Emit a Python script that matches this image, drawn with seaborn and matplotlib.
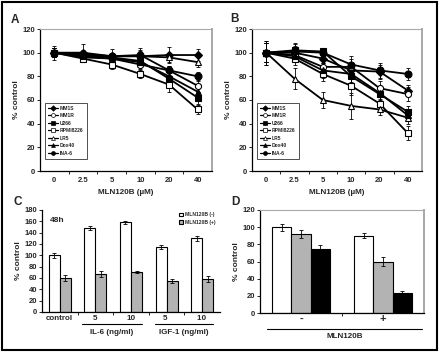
import matplotlib
matplotlib.use("Agg")
import matplotlib.pyplot as plt
from matplotlib.patches import Rectangle
from matplotlib.lines import Line2D
import pandas as pd
import seaborn as sns

# ---- data ----
doses = ["0", "2.5", "5", "10", "20", "40"]
lines_names = ["MM1S", "MM1R", "U266", "RPMI8226", "LR5", "Dox40", "INA-6"]

a_vals = {
    "MM1S": [100, 100, 97, 97, 98, 98],
    "MM1R": [100, 96, 95, 90, 85, 72],
    "U266": [100, 98, 96, 93, 78, 62],
    "RPMI8226": [100, 95, 90, 82, 73, 52],
    "LR5": [100, 98, 97, 97, 96, 92],
    "Dox40": [100, 97, 95, 92, 80, 67],
    "INA-6": [100, 99, 97, 98, 85, 80],
}
a_err = {
    "MM1S": [6, 7, 6, 7, 7, 5],
    "MM1R": [4, 3, 4, 4, 4, 5],
    "U266": [4, 3, 4, 5, 6, 5],
    "RPMI8226": [4, 3, 4, 3, 6, 4],
    "LR5": [4, 3, 3, 4, 4, 4],
    "Dox40": [4, 3, 3, 4, 4, 4],
    "INA-6": [4, 3, 3, 4, 4, 4],
}
b_vals = {
    "MM1S": [100, 100, 95, 85, 84, 68],
    "MM1R": [100, 98, 88, 88, 70, 65],
    "U266": [100, 102, 101, 80, 65, 50],
    "RPMI8226": [100, 95, 82, 72, 57, 32],
    "LR5": [100, 78, 60, 55, 52, 45],
    "Dox40": [100, 97, 85, 82, 66, 47],
    "INA-6": [100, 101, 100, 90, 85, 82],
}
b_err = {
    "MM1S": [8, 7, 4, 6, 6, 5],
    "MM1R": [10, 5, 6, 7, 6, 6],
    "U266": [8, 6, 3, 6, 5, 5],
    "RPMI8226": [8, 5, 6, 8, 6, 6],
    "LR5": [10, 9, 7, 11, 5, 5],
    "Dox40": [8, 5, 6, 7, 5, 5],
    "INA-6": [8, 5, 3, 7, 6, 5],
}

c_groups = ["control", "5", "10", "5 ", "10 "]
c_treat = ["MLN120B (-)", "MLN120B (+)"]
c_minus = [100, 148, 158, 115, 130]
c_plus = [60, 67, 70, 55, 58]
c_minus_err = [5, 3, 3, 4, 5]
c_plus_err = [6, 5, 2, 4, 5]

d_groups = ["-", "+"]
d_white = [100, 90]
d_gray = [92, 60]
d_black = [74, 23]
d_white_err = [4, 3]
d_gray_err = [5, 5]
d_black_err = [5, 3]

# ---- style ----
sns.set_style("ticks")
plt.rcParams["font.family"] = ["Liberation Sans", "DejaVu Sans"]
plt.rcParams["font.weight"] = "bold"
plt.rcParams["axes.labelweight"] = "bold"

W, H = 440, 356
GRAY = "#b3b3b3"
FRAME = "#a8a8a8"

markers = {
    "MM1S": ("D", "black", 3.6),
    "MM1R": ("o", "white", 4.4),
    "U266": ("s", "black", 4.4),
    "RPMI8226": ("s", "white", 4.4),
    "LR5": ("^", "white", 5.0),
    "Dox40": ("^", "black", 5.0),
    "INA-6": ("o", "black", 5.0),
}


def box(l, t, r, b):
    return [l / W, 1 - b / H, (r - l) / W, (b - t) / H]


fig = plt.figure(figsize=(W / 100, H / 100), dpi=100)
fig.patches.append(Rectangle((1.5 / W, 1 - 350 / H), 435.5 / W, 348.5 / H,
                             transform=fig.transFigure, fill=False,
                             edgecolor="black", linewidth=1.5))


def style_axes(ax, framed=True):
    ax.tick_params(axis="both", labelsize=5.5, length=2, width=0.7, pad=1.5)
    for s in ["left", "bottom"]:
        ax.spines[s].set_linewidth(0.9)
        ax.spines[s].set_color("black")
    if framed:
        ax.spines["top"].set_color(FRAME)
        ax.spines["right"].set_color(FRAME)
        ax.spines["top"].set_linewidth(0.8)
        ax.spines["right"].set_linewidth(1.4)
    else:
        ax.spines["top"].set_visible(False)
        ax.spines["right"].set_visible(False)


def dose_panel(rect, vals, errs, label, lab_xy):
    ax = fig.add_axes(box(*rect))
    pos = list(range(len(doses)))
    handles = []
    for name in lines_names:
        ax.errorbar(pos, vals[name], yerr=errs[name], fmt="none", ecolor="black",
                    elinewidth=0.6, capsize=1.2, capthick=0.6, zorder=2)
    for name in lines_names:
        m, fc, ms = markers[name]
        sns.lineplot(x=pos, y=vals[name], ax=ax, color="black", linewidth=1.3,
                     marker=m, markersize=ms, markerfacecolor=fc,
                     markeredgecolor="black", markeredgewidth=0.8,
                     errorbar=None, zorder=3)
        handles.append(Line2D([], [], color="black", linewidth=0.9, marker=m,
                              markersize=2.8, markerfacecolor=fc,
                              markeredgecolor="black", markeredgewidth=0.5,
                              label=name))
    ax.set_xlim(-0.5, 5.5)
    ax.set_ylim(0, 120)
    ax.set_yticks(range(0, 121, 20))
    ax.set_xticks(pos)
    ax.set_xticklabels(doses)
    ax.set_xticks([p + 0.5 for p in pos[:-1]], minor=True)
    style_axes(ax)
    ax.tick_params(axis="x", which="major", length=0, pad=4)
    ax.tick_params(axis="x", which="minor", length=2, width=0.7)
    ax.set_xlabel("MLN120B (\u00b5M)", fontsize=5.8, labelpad=4)
    ax.set_ylabel("% control", fontsize=6, labelpad=2)
    leg = ax.legend(handles=handles, loc="lower left", bbox_to_anchor=(0.015, 0.07),
                    fontsize=3.6, frameon=True, fancybox=False, edgecolor="black",
                    handlelength=2.0, handletextpad=0.4, labelspacing=0.5,
                    borderpad=0.6)
    leg.get_frame().set_linewidth(0.6)
    fig.text(lab_xy[0] / W, 1 - lab_xy[1] / H, label, fontsize=8.5, fontweight="bold",
             ha="center", va="center")
    return ax


dose_panel((40, 29, 212, 171), a_vals, a_err, "A", (15, 20))
dose_panel((252, 29, 422, 171), b_vals, b_err, "B", (234, 19))

# ---- panel C ----
axc = fig.add_axes(box(42, 210, 220, 312))
dfc = pd.DataFrame({
    "group": c_groups * 2,
    "treat": [c_treat[0]] * 5 + [c_treat[1]] * 5,
    "value": c_minus + c_plus,
})
sns.barplot(data=dfc, x="group", y="value", hue="treat", order=c_groups,
            hue_order=c_treat, palette=["white", GRAY], edgecolor="black",
            linewidth=0.8, width=0.62, errorbar=None, ax=axc)
for cont, errs in zip(axc.containers, [c_minus_err, c_plus_err]):
    xs = [p.get_x() + p.get_width() / 2 for p in cont]
    ys = [p.get_height() for p in cont]
    axc.errorbar(xs, ys, yerr=errs, fmt="none", ecolor="black", elinewidth=0.6,
                 capsize=1.2, capthick=0.6)
axc.set_ylim(0, 180)
axc.set_yticks(range(0, 181, 20))
axc.set_xlim(-0.5, 4.5)
axc.set_xticks([x + 0.5 for x in range(4)], minor=True)
style_axes(axc, framed=False)
axc.tick_params(axis="x", which="major", length=0, labelsize=5.8, pad=2)
axc.tick_params(axis="x", which="minor", length=2, width=0.7)
axc.set_xlabel("")
axc.set_ylabel("% control", fontsize=6, labelpad=2)
legc = axc.legend(loc="upper right", bbox_to_anchor=(1.0, 1.02), fontsize=3.6,
                  frameon=False, handlelength=0.7, handleheight=0.7,
                  handletextpad=0.4, labelspacing=0.5)
axc.text(0.045, 0.9, "48h", transform=axc.transAxes, fontsize=6,
         fontweight="bold", ha="left", va="center")
for x0, x1, txt in [(82, 142, "IL-6 (ng/ml)"), (155, 213, "IGF-1 (ng/ml)")]:
    fig.lines.append(Line2D([x0 / W, x1 / W], [1 - 324 / H] * 2,
                            transform=fig.transFigure, color="black", linewidth=0.8))
    fig.text((x0 + x1) / 2 / W, 1 - 332 / H, txt, fontsize=5.8, fontweight="bold",
             ha="center", va="center")
fig.text(18 / W, 1 - 202 / H, "C", fontsize=8.5, fontweight="bold",
         ha="center", va="center")

# ---- panel D ----
axd = fig.add_axes(box(260, 210, 424, 313))
dfd = pd.DataFrame({
    "group": d_groups * 3,
    "shade": ["w"] * 2 + ["g"] * 2 + ["k"] * 2,
    "value": d_white + d_gray + d_black,
})
sns.barplot(data=dfd, x="group", y="value", hue="shade", order=d_groups,
            hue_order=["w", "g", "k"], palette=["white", GRAY, "black"],
            edgecolor="black", linewidth=0.8, width=0.7, errorbar=None,
            legend=False, ax=axd)
for cont, errs in zip(axd.containers, [d_white_err, d_gray_err, d_black_err]):
    xs = [p.get_x() + p.get_width() / 2 for p in cont]
    ys = [p.get_height() for p in cont]
    axd.errorbar(xs, ys, yerr=errs, fmt="none", ecolor="black", elinewidth=0.6,
                 capsize=1.2, capthick=0.6)
axd.set_ylim(0, 120)
axd.set_yticks(range(0, 121, 20))
axd.set_xlim(-0.5, 1.5)
axd.set_xticks([0.5], minor=True)
style_axes(axd)
axd.tick_params(axis="x", which="major", length=0, labelsize=8, pad=1)
axd.tick_params(axis="x", which="minor", length=2, width=0.7)
axd.set_xlabel("")
axd.set_ylabel("% control", fontsize=6, labelpad=2)
fig.lines.append(Line2D([267 / W, 422 / W], [1 - 329 / H] * 2,
                        transform=fig.transFigure, color="black", linewidth=0.8))
fig.text(345 / W, 1 - 337 / H, "MLN120B", fontsize=5.8, fontweight="bold",
         ha="center", va="center")
fig.text(235 / W, 1 - 202 / H, "D", fontsize=8.5, fontweight="bold",
         ha="center", va="center")

fig.savefig("out.png", dpi=100)
